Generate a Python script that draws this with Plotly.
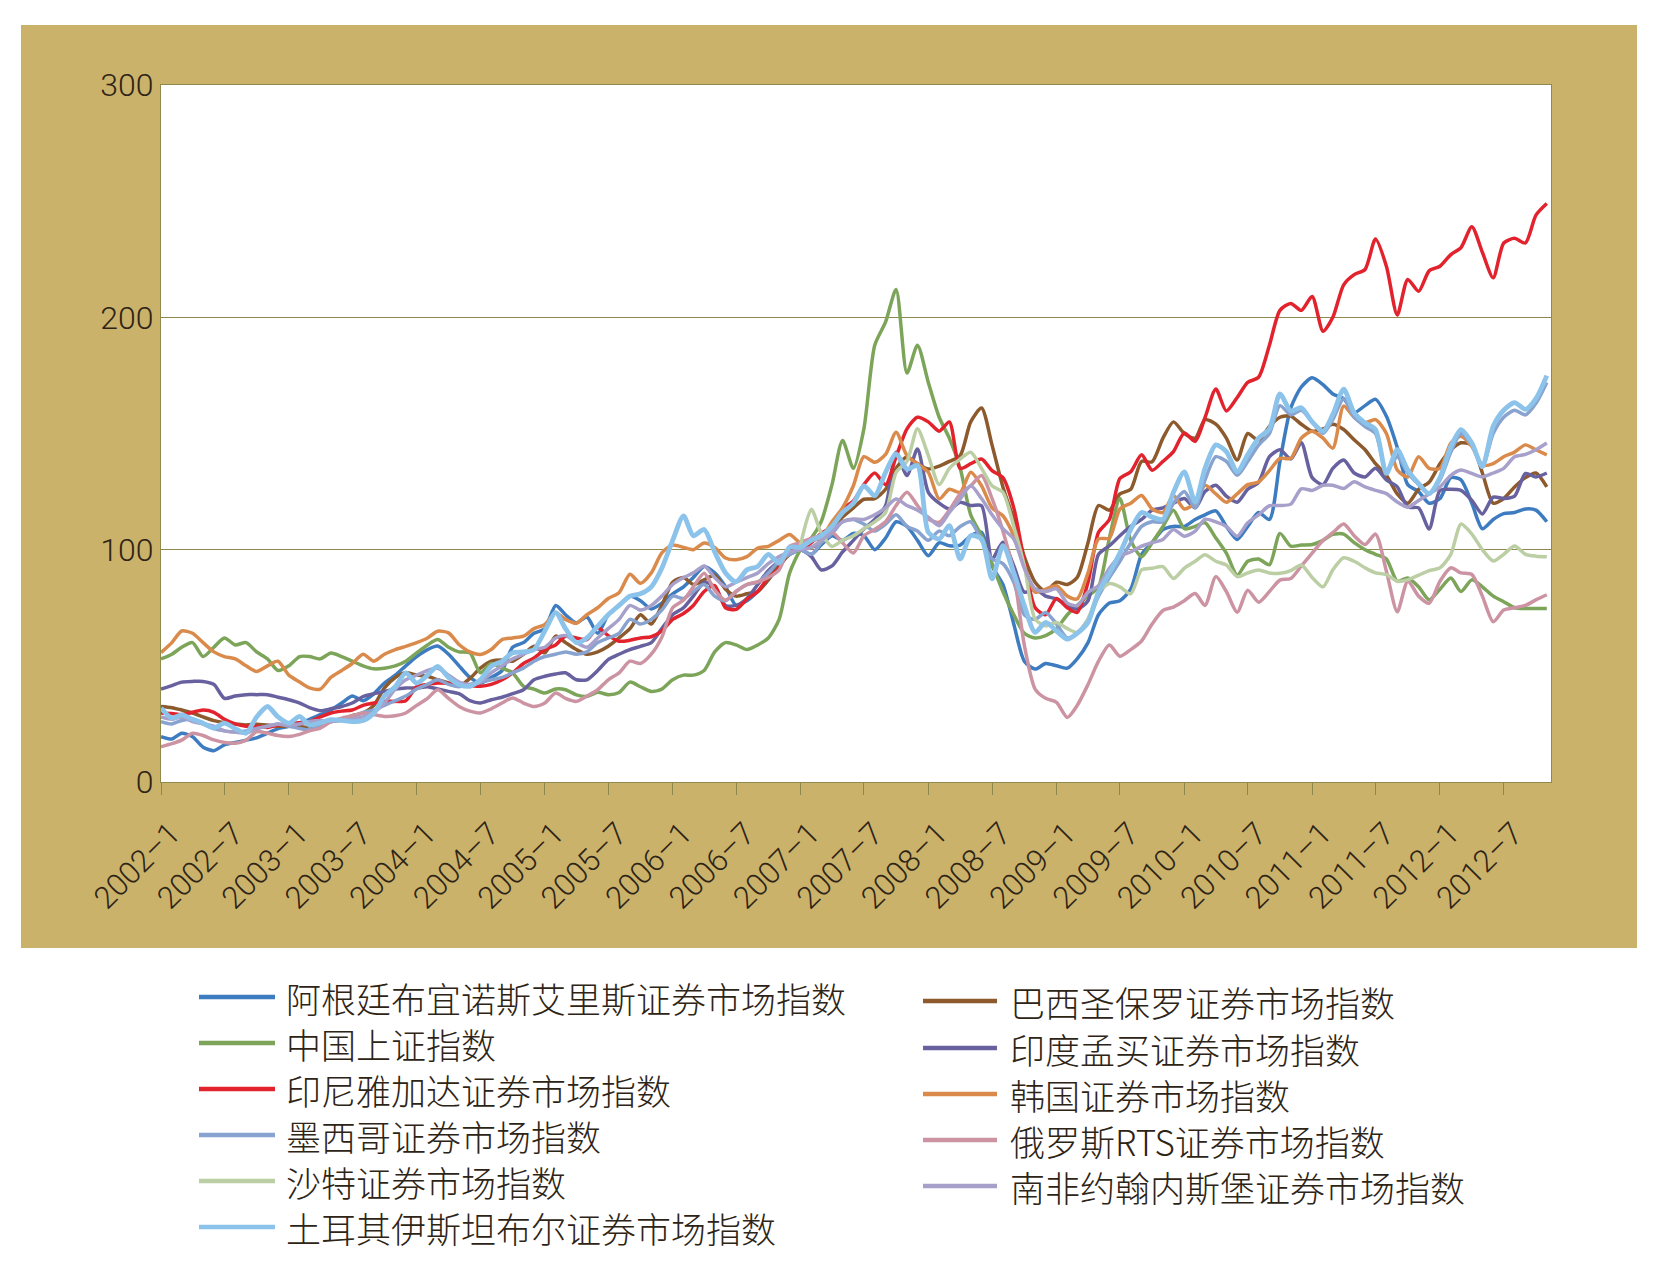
import pandas as pd
import plotly.graph_objects as go

# ---------------- data ----------------
months = pd.date_range("2002-01-01", "2012-11-01", freq="MS")  # 131 monthly points

names = [
    "阿根廷布宜诺斯艾里斯证券市场指数",
    "巴西圣保罗证券市场指数",
    "中国上证指数",
    "印度孟买证券市场指数",
    "印尼雅加达证券市场指数",
    "韩国证券市场指数",
    "墨西哥证券市场指数",
    "俄罗斯RTS证券市场指数",
    "沙特证券市场指数",
    "南非约翰内斯堡证券市场指数",
    "土耳其伊斯坦布尔证券市场指数",
]

argentina = [
    19.5, 18.5, 21, 19.5, 15, 13.5, 16, 17, 18, 19, 21, 23,
    24, 25.5, 27, 29, 31, 34, 37, 35, 38, 42.6, 46, 50,
    54, 57, 58.5, 55, 50, 45, 42.6, 45, 48, 58, 60, 64,
    66, 76, 72, 68.5, 71, 64, 72, 76, 80, 78, 74.5, 77,
    81, 84, 88, 92.8, 90, 84, 76, 78, 82, 87, 94, 99,
    100, 98, 102, 106, 104, 107, 106, 100, 105, 112, 110, 104,
    97.4, 103, 101.7, 102, 106, 107.5, 93, 85, 68, 52, 48.6, 51,
    50, 49, 53, 60, 72, 77, 78, 83, 98, 103, 108.7, 110,
    110, 113, 115, 116.7, 110, 104.4, 110, 116, 113, 138, 161, 170,
    174, 171, 167, 165, 159, 162, 164.7, 157.4, 144, 128, 125, 120,
    122, 131, 130, 120, 109, 113, 115.5, 116, 117.5, 117, 112,
]
brazil = [
    32.5, 32, 31, 29.7, 28, 26.4, 25.5, 25, 24.5, 24.9, 24.5, 24,
    24, 23.9, 23.5, 24.4, 26, 26.8, 28.5, 29.7, 33, 40.5, 45, 47,
    46, 45.5, 44, 42.6, 41.2, 44.6, 49, 52, 52.5, 52, 55, 58.4,
    55.6, 62.8, 60, 57, 55, 56, 58.4, 62, 66, 72, 68, 76,
    86, 88, 85, 87, 89, 83, 80, 81, 82, 87, 93, 98,
    100, 101, 103, 108, 114, 118, 121.7, 122, 126, 135, 140, 137,
    134.7, 136, 138, 140.5, 155, 161, 145, 127, 113, 97, 86, 82,
    86, 85, 88, 103, 119, 117, 124, 126, 138, 137.8, 148, 155,
    150, 148, 156, 154, 148, 138.6, 150, 147, 153, 157, 157.5, 154,
    151, 152, 154, 151.7, 147.3, 143, 137, 132, 124, 120, 126, 129,
    137, 143, 146, 145, 133, 120, 122, 127, 131, 133, 127,
]
china = [
    53, 55, 58, 60, 54, 58, 62, 59, 60, 56, 53, 48,
    50, 54, 54, 53, 55.5, 54, 52, 50, 48.7, 49, 50, 52,
    55.6, 59, 61.3, 58, 56, 55.6, 47, 51, 49, 47, 41.2, 40,
    38.3, 40, 39.7, 37.5, 36.8, 38.6, 37.6, 38.5, 43, 41, 39, 40,
    44, 46, 46, 48, 56, 60, 59, 57, 59, 62, 70, 90,
    100, 105, 112, 128, 147, 135, 152, 188, 198, 212, 176, 188,
    172, 157, 148, 135, 115, 106, 94, 82, 72, 64, 62, 63,
    66, 72, 76, 80, 84, 105, 122, 104, 97, 103, 110, 117,
    109, 110, 111.6, 105, 98.5, 89, 95, 96, 93.5, 107, 101.5, 102,
    102.2, 104, 106.6, 106.7, 103, 100, 98, 96, 86.4, 87.8, 84, 78.4,
    83, 87.8, 82, 87, 84, 80, 77.6, 75, 74.7, 74.7, 74.7,
]
india = [
    40, 41.5, 43, 43.3, 43.3, 42, 36, 37, 37.6, 37.6, 37.6, 36.5,
    35.4, 34, 32, 30.7, 31.5, 32.5, 34, 36.8, 38, 39, 40, 40.5,
    40.5, 41, 40, 39, 38, 35, 34, 35.4, 36.5, 38, 39.7, 44,
    45.5, 46.5, 47, 44, 44, 48, 52.7, 55, 57, 58.4, 60, 66,
    72, 75, 80, 86, 84, 76, 76, 79, 85, 91, 95, 98,
    100, 97, 91.3, 93, 99, 104, 108.9, 113, 118.9, 141.9, 131.9, 143.3,
    124.7, 120, 117.5, 120.4, 119, 118.9, 96, 103.2, 93.1, 81.7, 83.1, 80,
    78.8, 76, 74.4, 78, 98, 101.7, 106, 110, 113, 117, 118, 120,
    122, 118, 125, 127.7, 123, 120.4, 126, 129, 140, 143, 139, 146,
    131, 128, 135, 138.6, 133, 131.3, 135, 130, 127, 118.3, 118, 108.9,
    125.5, 126, 125.5, 121.2, 115.4, 122.6, 122, 123, 132.8, 131.3, 133,
]
indonesia = [
    29.7, 29.5, 29, 30, 31, 30, 27, 25, 24, 24, 23.5, 24.5,
    25, 25.5, 26, 28, 29.7, 30.5, 31, 33, 34, 34.7, 34.7, 35,
    41, 42, 42.6, 42.5, 42, 41.5, 41.2, 42, 44, 47, 51, 53.4,
    57, 59, 62.8, 62, 61.3, 66.4, 63, 60.6, 61, 62, 62.5, 65,
    70, 72.5, 76, 82, 84.5, 75, 74.3, 78.7, 82, 88, 92, 100,
    100, 103, 107, 110, 117.4, 121, 128, 133, 128, 140, 152, 157,
    155, 151, 155, 135, 137, 139, 134, 131, 118, 95, 75, 72,
    79, 75, 73, 86, 107.5, 113, 130.6, 133.5, 140.8, 134.2, 138, 142.2,
    150.2, 146.6, 156.8, 169.1, 159.7, 165.5, 172, 174.2, 188, 203, 206, 203,
    209, 194, 200, 214, 218.4, 220.6, 233.7, 222, 201, 216.3, 211.2, 220,
    222, 227, 230, 239, 228, 217, 232, 234, 232, 244, 249,
]
korea = [
    55.7, 60, 65, 64, 60, 56, 54, 53, 50, 47.6, 50, 52,
    46, 43, 40.5, 40, 45, 48, 51, 55, 52, 55, 57, 58.4,
    60, 62, 64.9, 64.2, 59.2, 56, 54.9, 57, 61.3, 62, 62.8, 66,
    67.8, 72.9, 70, 68.3, 72, 75, 79, 81.5, 89.4, 85.5, 90, 98.6,
    102, 101, 100, 102.9, 101, 96.4, 95.7, 97, 100.7, 101.4, 104, 106.5,
    103, 104, 105, 112, 118, 127.5, 140, 137.6, 141, 150.5, 140.5, 137,
    133.3, 121.8, 126, 124.7, 133.3, 127.5, 118, 114.6, 106, 93, 81.7, 83,
    84.5, 80, 78.8, 90, 104.6, 105, 117.5, 120, 123.3, 117.5, 116, 123.3,
    117.5, 120, 127.7, 124, 120.4, 124, 128, 129.1, 134, 139.3, 139.3, 148,
    151, 148, 143.7, 161.8, 157, 154.6, 156, 150, 134.3, 131.3, 140, 135,
    135, 145.9, 148.8, 144.4, 136.4, 137, 140, 142, 145.1, 143, 140.8,
]
mexico = [
    26, 25, 26.5, 27, 25, 23, 22, 21.5, 22, 23, 24, 25,
    24, 23, 22.5, 24, 26, 27, 28, 30, 31, 33, 35, 37,
    40, 42, 44, 42, 41, 42, 43, 44, 45, 47, 49, 52,
    54, 55, 56, 55, 56, 60, 62, 64, 70, 68, 70, 74,
    80, 79, 82, 85, 80, 78, 82, 85, 86, 90, 95, 98,
    100, 98, 103, 107, 112, 113, 111, 108, 111, 115, 110, 108,
    104, 108, 106, 110, 112, 104, 96, 94, 86, 72, 70, 73,
    68, 62, 64, 70, 80, 88, 95, 103, 110, 112, 112, 120,
    125, 118, 130, 140, 138, 132, 138, 145, 150, 162, 158, 160,
    155, 150, 156, 165, 157, 153, 150, 134, 140, 133, 128, 124,
    130, 142, 150, 145, 136, 150, 157, 160, 158, 163, 172,
]
russia = [
    15.2, 16.5, 18, 21, 20, 18.1, 17, 16.7, 18, 21.7, 21, 20,
    19.6, 20.5, 22, 23.2, 26, 27.5, 28.5, 29.7, 29, 28.2, 28.5, 29.7,
    33, 36, 39.7, 36, 32.5, 30.5, 29.7, 31.5, 34, 36.2, 34, 32.5,
    34, 38.3, 36, 34.7, 37, 39.7, 44, 47, 52, 51, 55, 62.3,
    75, 78.3, 84, 89.9, 82.6, 78.3, 82, 85, 86.2, 88, 91.3, 101.4,
    103, 105, 106, 107.5, 103, 98.6, 106, 108.7, 112, 119, 124.7, 119,
    113.2, 111.8, 117, 124, 127.5, 131.9, 122, 108, 90, 59, 40, 36,
    34.3, 27.8, 32.9, 42, 52, 59, 54.1, 57, 60.7, 68, 73.8, 75.3,
    78, 81.1, 76, 88.4, 82, 73.1, 82.5, 77.4, 82, 86.9, 87.6, 93,
    98.5, 104, 107.3, 111, 106, 102.2, 106.7, 90.7, 73.3, 86.4, 80, 76.9,
    86.4, 92.2, 90, 89.3, 80, 69, 74, 75, 76, 78.4, 80.6,
]
saudi = [None] * 60 + [
    102, 117.4, 107.2, 101.4, 104, 106, 109, 112, 116, 133.3, 138, 152,
    140.5, 128, 135, 139, 141.9, 135, 127.5, 124.7, 110, 93.1, 70.1, 67.2,
    68.7, 66, 64.4, 70.1, 81.7, 85.4, 84, 81, 91.3, 92, 92.7, 87.6,
    92, 95, 97.8, 95, 93.4, 88.4, 90, 91.3, 90, 89.8, 91, 93.4,
    88, 84, 91.3, 96.5, 95, 92.2, 90, 89.3, 86.4, 87, 89, 91,
    92.2, 98, 111, 106.7, 100, 95.1, 98, 101.6, 98, 97.2, 97,
]
south_africa = [
    28, 27, 28, 26, 25, 24, 22, 21.5, 21, 23, 24, 25,
    24.5, 25, 26, 26.5, 26, 26.5, 27, 28, 30, 34, 40, 44,
    46, 48, 49, 46, 43, 42, 43, 47, 50, 53, 55, 57,
    58, 62, 63, 60, 58, 62, 66, 70, 76, 74, 76, 80,
    85, 88, 90, 93, 88, 84, 86, 88, 90, 94, 97, 99,
    100, 101, 104, 108, 112, 113.2, 113, 115, 118, 121.8, 119, 117,
    114, 110.3, 116, 121.8, 127.5, 122, 115, 109, 104.6, 92, 83.1, 82,
    83.1, 77, 75.9, 81.7, 84.5, 92, 97.1, 99, 101.5, 103, 104.4, 108.7,
    105.8, 108, 113.1, 112, 110, 105.8, 111.6, 115, 118.9, 119, 119.6, 126.2,
    125.5, 127.7, 127.7, 126.3, 129.2, 127, 125.5, 124.1, 120.5, 118.3, 121.2, 124,
    127, 132, 134.3, 132.8, 131.3, 133, 135, 140, 141, 143, 145.9,
]
turkey = [
    31.8, 27.5, 28.9, 27, 25.3, 23.2, 25.3, 23, 21, 28, 32.5, 28,
    25.3, 28.2, 24.4, 25.5, 26.8, 26.5, 26, 26.5, 29.7, 37, 41, 47,
    42.6, 46, 49.8, 45, 42, 41.2, 44, 49.8, 52, 55.6, 56, 57,
    65, 72.9, 66, 60, 62, 67.1, 72, 76, 80, 81, 84, 92,
    104, 114.5, 106, 108.7, 99, 90, 86.2, 91.3, 92.8, 98, 94.2, 101,
    101, 104, 106, 110, 116, 120, 127.5, 123.2, 133.3, 141.2, 134.7, 136.2,
    107.5, 104.6, 110.3, 96, 106, 104.6, 87.4, 101.7, 90, 75.9, 64.4, 68.7,
    65, 61.5, 64, 68.7, 81.7, 89.8, 98.5, 108.7, 116, 114, 113.1, 124.7,
    133.5, 120.4, 135, 145.1, 142.2, 133.5, 140.8, 148, 152, 167, 159.7, 161.1,
    155, 151, 158.2, 169.1, 158.9, 154.6, 151.7, 132.8, 143, 134.3, 128.4, 124.1,
    131, 144.4, 151.7, 145.9, 135.7, 153.1, 160, 163.3, 160.4, 165, 174.9,
]

series = [argentina, brazil, china, india, indonesia, korea,
          mexico, russia, saudi, south_africa, turkey]
for s in series:
    assert len(s) == len(months), len(s)

tick_dates = list(months[::6])
tick_text = [f"{d.year}–{d.month}" for d in tick_dates]
y_ticks = [0, 100, 200, 300]

# ---------------- styling ----------------
colors = ["#3D7CC0", "#8C5A2C", "#7CA55A", "#67619F", "#E2232E", "#DA8A4A",
          "#88A3CF", "#CC93A3", "#BBCEA4", "#A7A0CB", "#8CC3EA"]
widths = [3.5] * 10 + [4.8]

GOLD = "#CAB26B"
OLIVE = "#8F8A4C"
TXT = "#2E2416"
NUMFONT = "Roboto, Liberation Sans, Arial, sans-serif"
CJK = "Noto Sans CJK SC, Noto Sans, sans-serif"

W, H = 1658, 1264
L, R, T, B = 161, 1551, 85, 782
PW, PH = R - L, B - T


def px(x):
    return (x - L) / PW


def py(y):
    return (B - y) / PH


fig = go.Figure()
for name, vals, col, w in zip(names, series, colors, widths):
    fig.add_trace(go.Scatter(
        x=months, y=vals, mode="lines", name=name,
        line=dict(color=col, width=w, shape="spline", smoothing=0.7),
        connectgaps=False, showlegend=False, hoverinfo="x+y+name"))

shapes = [
    dict(type="rect", xref="paper", yref="paper", layer="below",
         x0=px(21), x1=px(1637), y0=py(948), y1=py(25),
         fillcolor=GOLD, line=dict(width=0)),
    dict(type="rect", xref="paper", yref="paper", layer="below",
         x0=0, x1=1, y0=0, y1=1, fillcolor="white", line=dict(width=0)),
]
annotations = []

# custom legend: left column / right column
left_idx = [0, 2, 4, 6, 8, 10]
right_idx = [1, 3, 5, 7, 9]
left_rows = [997, 1043, 1089, 1135, 1181, 1227]
right_rows = [1001, 1048, 1094, 1140, 1186]
for idx_list, rows, lx0, lx1, tx in [
        (left_idx, left_rows, 199, 275, 284),
        (right_idx, right_rows, 923, 997, 1008)]:
    for i, yy in zip(idx_list, rows):
        shapes.append(dict(type="line", xref="paper", yref="paper",
                           x0=px(lx0), x1=px(lx1), y0=py(yy), y1=py(yy),
                           line=dict(color=colors[i], width=4.5)))
        annotations.append(dict(
            xref="paper", yref="paper", x=px(tx), y=py(yy),
            xanchor="left", yanchor="middle", showarrow=False,
            text=names[i], font=dict(family=CJK, size=35, color=TXT, weight=300)))

fig.update_layout(
    width=W, height=H,
    margin=dict(l=L, r=W - R, t=T, b=H - B, pad=0),
    paper_bgcolor="white", plot_bgcolor="white",
    shapes=shapes, annotations=annotations,
    showlegend=False,
    xaxis=dict(
        type="date",
        range=[months[0], pd.Timestamp("2012-11-13")],
        tickvals=tick_dates, ticktext=tick_text, tickangle=-45,
        ticks="outside", ticklen=12, tickwidth=1, tickcolor=OLIVE,
        ticklabelshift=10, ticklabelstandoff=8,
        showgrid=False, zeroline=False,
        showline=True, linecolor=OLIVE, linewidth=1, mirror=True,
        tickfont=dict(family=NUMFONT, size=31, color=TXT, weight=300),
    ),
    yaxis=dict(
        range=[0, 300], tickvals=y_ticks,
        ticks="", showgrid=True, gridcolor=OLIVE, gridwidth=1,
        zeroline=False, showline=True, linecolor=OLIVE, linewidth=1, mirror=True,
        tickfont=dict(family=NUMFONT, size=32, color=TXT, weight=300),
    ),
)

fig.write_html("out.html")
